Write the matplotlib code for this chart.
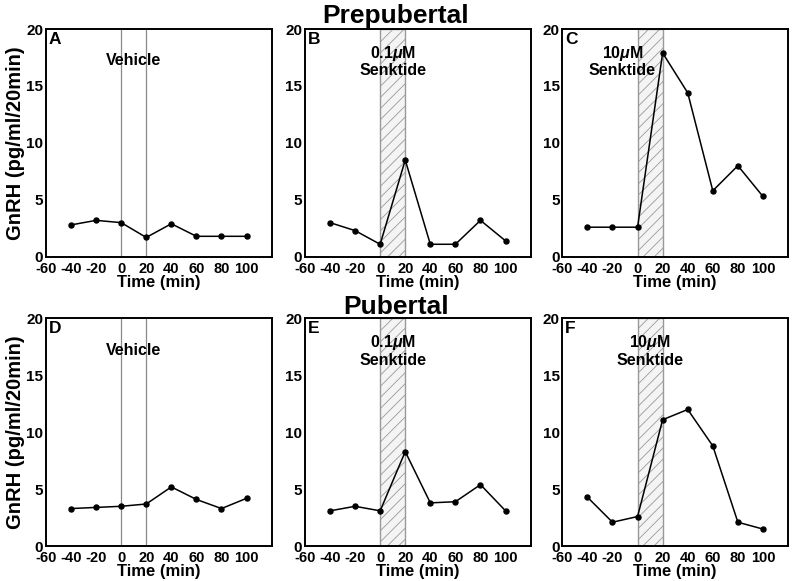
import matplotlib
matplotlib.use("Agg")
import matplotlib.pyplot as plt

plt.rcParams['font.family'] = ['Liberation Sans', 'DejaVu Sans']
plt.rcParams['font.weight'] = 'bold'
plt.rcParams['axes.unicode_minus'] = False
plt.rcParams['mathtext.fontset'] = 'custom'
plt.rcParams['mathtext.it'] = 'Liberation Sans:italic:bold'
plt.rcParams['mathtext.rm'] = 'Liberation Sans:bold'
plt.rcParams['hatch.linewidth'] = 0.6

# time points (min)
time = [-40, -20, 0, 20, 40, 60, 80, 100]

# GnRH release (pg/ml/20min)
prepub_vehicle = [2.8, 3.2, 3.0, 1.7, 2.9, 1.8, 1.8, 1.8]
prepub_low = [3.0, 2.3, 1.1, 8.5, 1.1, 1.1, 3.2, 1.4]
prepub_high = [2.6, 2.6, 2.6, 17.9, 14.4, 5.8, 8.0, 5.3]
pub_vehicle = [3.3, 3.4, 3.5, 3.7, 5.2, 4.1, 3.3, 4.2]
pub_low = [3.1, 3.5, 3.1, 8.3, 3.8, 3.9, 5.4, 3.1]
pub_high = [4.3, 2.1, 2.6, 11.1, 12.0, 8.8, 2.1, 1.5]

panels = ['A', 'B', 'C', 'D', 'E', 'F']
series = [prepub_vehicle, prepub_low, prepub_high, pub_vehicle, pub_low, pub_high]
labels = ['Vehicle', '0.1$\\mu$M\nSenktide', '10$\\mu$M\nSenktide'] * 2
label_x = [10, 10, -12, 10, 10, 10]
kinds = ['vehicle', 'drug', 'drug'] * 2

fig = plt.figure(figsize=(7.92, 5.81), dpi=100)

lefts = [0.058, 0.385, 0.710]
bottoms = [0.558, 0.060]
w, h = 0.285, 0.392

for i in range(6):
    row, col = divmod(i, 3)
    ax = fig.add_axes([lefts[col], bottoms[row], w, h])
    if kinds[i] == 'vehicle':
        ax.axvline(0, color='#888888', lw=0.9)
        ax.axvline(20, color='#888888', lw=0.9)
    else:
        ax.axvspan(0, 20, facecolor='#f4f4f4', edgecolor='#999999',
                   hatch='///', lw=1.0)
    ax.plot(time, series[i], color='black', lw=1.1, marker='o', ms=3.6)
    ax.set_xlim(-60, 120)
    ax.set_ylim(0, 20)
    ax.set_xticks(range(-60, 101, 20))
    ax.set_yticks([0, 5, 10, 15, 20])
    ax.tick_params(axis='x', length=0, labelsize=10.5, pad=3.5)
    ax.tick_params(axis='y', length=0, labelsize=11, pad=2)
    for lab in ax.get_yticklabels():
        lab.set_verticalalignment('center_baseline')
    for s in ax.spines.values():
        s.set_linewidth(1.4)
    ax.set_xlabel('Time (min)', fontsize=12, fontweight='bold', labelpad=-0.5)
    if col == 0:
        ax.set_ylabel('GnRH (pg/ml/20min)', fontsize=14.5, fontweight='bold', labelpad=1)
    ax.text(0.012, 0.988, panels[i], transform=ax.transAxes, ha='left', va='top',
            fontsize=12.5, fontweight='bold')
    ax.text(label_x[i], 17.2, labels[i],
            ha='center', va='center', fontsize=11.5, fontweight='bold',
            linespacing=1.05)

fig.text(0.5, 0.973, 'Prepubertal', ha='center', va='center', fontsize=19, fontweight='bold')
fig.text(0.5, 0.472, 'Pubertal', ha='center', va='center', fontsize=19, fontweight='bold')

fig.savefig('out.png', dpi=100)
